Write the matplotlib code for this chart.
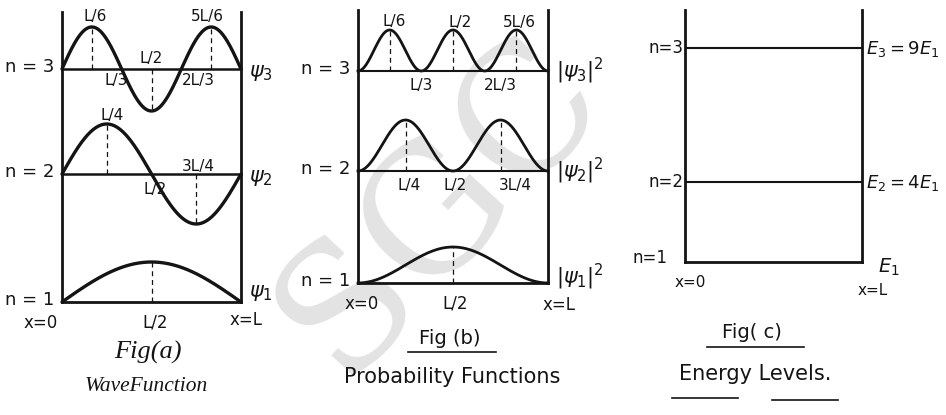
import numpy as np
import matplotlib.pyplot as plt

L = 1.0
levels = [1, 2, 3]
energy_ratio = [1, 4, 9]

# baseline height and drawn amplitude of each level (n = 1, 2, 3)
wave_base = [0, 128, 233]
wave_amp = [40, 50, 42]
prob_base = [0, 112, 212]
prob_amp = [36, 51, 41]

W, H = 946, 415
INK = '#141414'
HAND = 'DejaVu Sans'

fig = plt.figure(figsize=(W / 100, H / 100), dpi=100)

# full-figure layer in pixel units for captions and the watermark
bg = fig.add_axes([0, 0, 1, 1])
bg.set_xlim(0, W)
bg.set_ylim(H, 0)
bg.axis('off')
bg.text(440, 205, 'SGC', rotation=47, fontsize=125, color='#e3e3e3',
        family='DejaVu Serif', ha='center', va='center', zorder=0)


def panel(x0, x1, ytop, ybot, ylim):
    ax = fig.add_axes([x0 / W, 1 - ybot / H, (x1 - x0) / W, (ybot - ytop) / H])
    ax.set_facecolor('none')
    ax.set_xlim(0, L)
    ax.set_ylim(*ylim)
    ax.set_xticks([])
    ax.set_yticks([])
    ax.spines['top'].set_visible(False)
    for s in ('left', 'right', 'bottom'):
        ax.spines[s].set_linewidth(2)
        ax.spines[s].set_color(INK)
    return ax


def lbl(ax, x, y, s, size=11, **kw):
    kw.setdefault('ha', 'center')
    kw.setdefault('va', 'center')
    ax.text(x, y, s, fontsize=size, color=INK, family=HAND, clip_on=False, **kw)


x = np.linspace(0, L, 400)

# ---------- (a) wave functions ----------
ax = panel(62, 241, 12, 302, (0, 290))
for n, b, a in zip(levels, wave_base, wave_amp):
    ax.plot(x, b + a * np.sin(n * np.pi * x / L), color=INK, lw=2.4,
            clip_on=False, solid_capstyle='round')
    if n > 1:
        ax.plot([0, L], [b, b], color=INK, lw=1.8, clip_on=False)
    # dashed drops at the extrema
    for k in range(n):
        xm = (2 * k + 1) * L / (2 * n)
        ax.plot([xm, xm], [b, b + a * np.sin(n * np.pi * xm / L)],
                color=INK, lw=0.9, ls=(0, (4, 3)))
    lbl(ax, -0.18, b + 2, f'n = {n}', 13)
    lbl(ax, 1.11, b + (9 if n == 1 else -4), rf'$\psi_{n}$', 15)

b3, a3 = wave_base[2], wave_amp[2]
lbl(ax, 1 / 6 + 0.02, b3 + a3 + 10, 'L/6')
lbl(ax, 5 / 6 - 0.02, b3 + a3 + 10, '5L/6')
lbl(ax, 0.5, b3 + 11, 'L/2')
lbl(ax, 0.30, b3 - 12, 'L/3')
lbl(ax, 0.76, b3 - 12, '2L/3')
b2, a2 = wave_base[1], wave_amp[1]
lbl(ax, 0.28, b2 + a2 + 9, 'L/4')
lbl(ax, 0.76, b2 + 8, '3L/4')
lbl(ax, 0.52, b2 - 15, 'L/2')
lbl(ax, 0.52, -20, 'L/2', 12)
lbl(ax, -0.12, -21, 'x=0', 12)
lbl(ax, 1.03, -18, 'x=L', 12)

bg.text(148, 352, 'Fig(a)', fontsize=19, family='Liberation Serif',
        style='italic', ha='center', va='center', color=INK)
bg.text(146, 386, 'WaveFunction', fontsize=15.5, family='Liberation Serif',
        style='italic', ha='center', va='center', color=INK)

# ---------- (b) probability densities ----------
ax = panel(358, 548, 10, 283, (0, 273))
for n, b, a in zip(levels, prob_base, prob_amp):
    ax.plot(x, b + a * np.sin(n * np.pi * x / L) ** 2, color=INK, lw=2.0,
            clip_on=False)
    if n > 1:
        ax.plot([0, L], [b, b], color=INK, lw=1.5, clip_on=False)
    for k in range(n):
        xm = (2 * k + 1) * L / (2 * n)
        ax.plot([xm, xm], [b, b + a], color=INK, lw=0.9, ls=(0, (4, 3)))
    lbl(ax, -0.17, b + 2, f'n = {n}', 13)
    lbl(ax, 1.17, b + (6 if n == 1 else 0), rf'$|\psi_{n}|^2$', 15)

b3, a3 = prob_base[2], prob_amp[2]
lbl(ax, 0.19, b3 + a3 + 9, 'L/6')
lbl(ax, 0.54, b3 + a3 + 8, 'L/2')
lbl(ax, 0.85, b3 + a3 + 8, '5L/6')
lbl(ax, 0.33, b3 - 14, 'L/3')
lbl(ax, 0.75, b3 - 14, '2L/3')
b2 = prob_base[1]
lbl(ax, 0.27, b2 - 14, 'L/4')
lbl(ax, 0.51, b2 - 14, 'L/2')
lbl(ax, 0.83, b2 - 14, '3L/4')
lbl(ax, 0.51, -20, 'L/2', 12)
lbl(ax, 0.02, -21, 'x=0', 12)
lbl(ax, 1.06, -22, 'x=L', 12)

bg.text(450, 338, 'Fig (b)', fontsize=14, family=HAND, ha='center',
        va='center', color=INK)
bg.plot([408, 496], [352, 352], color=INK, lw=1.2)
bg.text(452, 377, 'Probability Functions', fontsize=15, family=HAND,
        ha='center', va='center', color=INK)

# ---------- (c) energy levels ----------
ax = panel(685, 862, 10, 262, (1, 10.42))
for n, e in zip(levels, energy_ratio):
    if n > 1:
        ax.plot([0, L], [e, e], color=INK, lw=1.5)
        lbl(ax, -0.01, e, f'n={n}', 12, ha='right')
        lbl(ax, 1.02, e - 0.05, rf'$E_{n} = {e}E_1$', 13, ha='left')
    else:
        lbl(ax, -0.1, e + 0.15, f'n={n}', 12, ha='right')
        lbl(ax, 1.15, e - 0.2, r'$E_1$', 14)
lbl(ax, 0.03, 1 - 0.75, 'x=0', 11)
lbl(ax, 1.06, 1 - 1.05, 'x=L', 11)

bg.text(752, 332, 'Fig( c)', fontsize=14, family=HAND, ha='center',
        va='center', color=INK)
bg.plot([707, 804], [347, 347], color=INK, lw=1.2)
bg.text(755, 374, 'Energy Levels.', fontsize=15, family=HAND, ha='center',
        va='center', color=INK)
bg.plot([672, 738], [398, 398], color=INK, lw=1.2)
bg.plot([772, 838], [400, 400], color=INK, lw=1.2)

fig.savefig('out.png', dpi=100, facecolor='white')
